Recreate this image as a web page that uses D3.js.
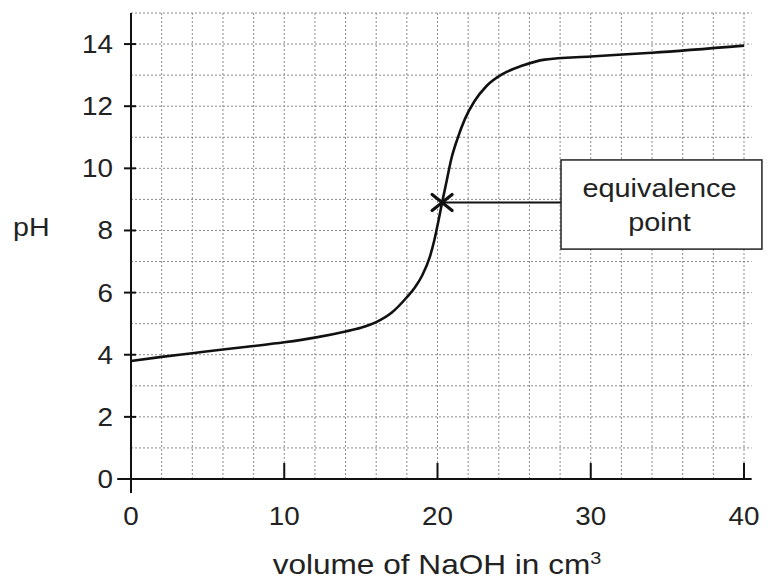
<!DOCTYPE html>
<html>
<head>
<meta charset="utf-8">
<script src="https://cdn.jsdelivr.net/npm/d3@7"></script>
<style>
  body { margin: 0; background: #fff; }
  svg { display: block; font-family: "Liberation Sans", Arial, sans-serif; }
</style>
</head>
<body>
<svg id="chart"></svg>
<script>
var width = 768, height = 582;

// titration curve
var volume = [0, 2, 4, 6, 8, 10, 12, 14, 15, 16, 17, 18, 18.5, 19, 19.5, 19.8, 20.1, 20.3, 20.6, 20.9, 21.3, 21.8, 22.4, 23.2, 24.3, 25.5, 27, 30, 34, 40];
var pH     = [3.8, 3.93, 4.05, 4.17, 4.28, 4.4, 4.55, 4.75, 4.87, 5.05, 5.35, 5.85, 6.15, 6.55, 7.15, 7.7, 8.4, 8.9, 9.6, 10.3, 10.95, 11.6, 12.15, 12.65, 13.05, 13.3, 13.5, 13.6, 13.72, 13.95];

var xTicks = [0, 10, 20, 30, 40];
var yTicks = [0, 2, 4, 6, 8, 10, 12, 14];
var xGrid = d3.range(0, 41, 2);
var yGrid = d3.range(0, 16, 1);

var equivPoint = {x: 20.3, y: 8.9};
var boxLines = ["equivalence", "point"];

var x = d3.scaleLinear().domain([0, 40]).range([131, 744]);
var y = d3.scaleLinear().domain([0, 15]).range([479, 13]);

var svg = d3.select("#chart")
  .attr("width", width)
  .attr("height", height)
  .attr("viewBox", [0, 0, width, height]);

// stretched text, the scan is a bit wider than tall
function label(g, tx, ty, txt, anchor, size, sx) {
  return g.append("text")
    .attr("transform", `translate(${tx},${ty}) scale(${sx},1)`)
    .attr("text-anchor", anchor)
    .style("font-size", size + "px")
    .attr("fill", "#222")
    .text(txt);
}

// grid
var grid = svg.append("g")
  .attr("stroke", "#8a8a8a")
  .attr("stroke-width", 1)
  .attr("stroke-dasharray", "2,2");

grid.selectAll("line.v")
  .data(xGrid.slice(1))
  .join("line")
    .attr("class", "v")
    .attr("x1", d => x(d)).attr("x2", d => x(d))
    .attr("y1", y(0)).attr("y2", y(15));

grid.selectAll("line.h")
  .data(yGrid.slice(1))
  .join("line")
    .attr("class", "h")
    .attr("x1", x(0)).attr("x2", x(40.5))
    .attr("y1", d => y(d)).attr("y2", d => y(d));

// axes
var axes = svg.append("g").attr("stroke", "#111").attr("stroke-width", 2);

axes.append("line")
  .attr("x1", x(-0.9)).attr("x2", x(40.5))
  .attr("y1", y(0)).attr("y2", y(0));
axes.append("line")
  .attr("x1", x(0)).attr("x2", x(0))
  .attr("y1", y(15)).attr("y2", y(0) + 14);

axes.selectAll("line.yt")
  .data(yTicks.slice(1))
  .join("line")
    .attr("class", "yt")
    .attr("x1", x(0) - 7).attr("x2", x(0) + 5)
    .attr("y1", d => y(d)).attr("y2", d => y(d));

axes.selectAll("line.xt")
  .data(xTicks.slice(1))
  .join("line")
    .attr("class", "xt")
    .attr("x1", d => x(d)).attr("x2", d => x(d))
    .attr("y1", y(0)).attr("y2", y(0) - 16);

var labels = svg.append("g");
yTicks.forEach(function(t) {
  label(labels, 113, y(t) + 9, t, "end", 26, 1.07);
});
xTicks.forEach(function(t) {
  label(labels, x(t), 525, t, "middle", 26, 1.07);
});

label(labels, 13, 236, "pH", "start", 26, 1.1);

var title = label(labels, 437, 574, "volume of NaOH in cm", "middle", 27, 1.17);
title.append("tspan")
  .attr("dy", -10)
  .style("font-size", "17px")
  .text("3");

// curve
var pts = volume.map((v, i) => [v, pH[i]]);
var line = d3.line()
  .x(d => x(d[0]))
  .y(d => y(d[1]))
  .curve(d3.curveMonotoneX);

svg.append("path")
  .datum(pts)
  .attr("d", line)
  .attr("fill", "none")
  .attr("stroke", "#111")
  .attr("stroke-width", 2.6)
  .attr("stroke-linejoin", "round");

// annotation box
var bx0 = x(28.06), bx1 = x(41.17), by0 = y(10.27), by1 = y(7.4);

svg.append("line")
  .attr("x1", x(equivPoint.x)).attr("x2", bx0)
  .attr("y1", y(equivPoint.y)).attr("y2", y(equivPoint.y))
  .attr("stroke", "#111")
  .attr("stroke-width", 2);

svg.append("rect")
  .attr("x", bx0).attr("y", by0)
  .attr("width", bx1 - bx0).attr("height", by1 - by0)
  .attr("fill", "#fff")
  .attr("stroke", "#222")
  .attr("stroke-width", 1.5);

label(svg, (bx0 + bx1) / 2 - 2, 197, boxLines[0], "middle", 26, 1.11);
label(svg, (bx0 + bx1) / 2 - 2, 231, boxLines[1], "middle", 26, 1.11);

// cross marker
var mx = x(equivPoint.x), my = y(equivPoint.y);
svg.append("path")
  .attr("d", `M${mx - 10},${my - 8}L${mx + 10},${my + 8}M${mx - 10},${my + 8}L${mx + 10},${my - 8}`)
  .attr("stroke", "#111")
  .attr("stroke-width", 3.2)
  .attr("stroke-linecap", "round");
</script>
</body>
</html>
